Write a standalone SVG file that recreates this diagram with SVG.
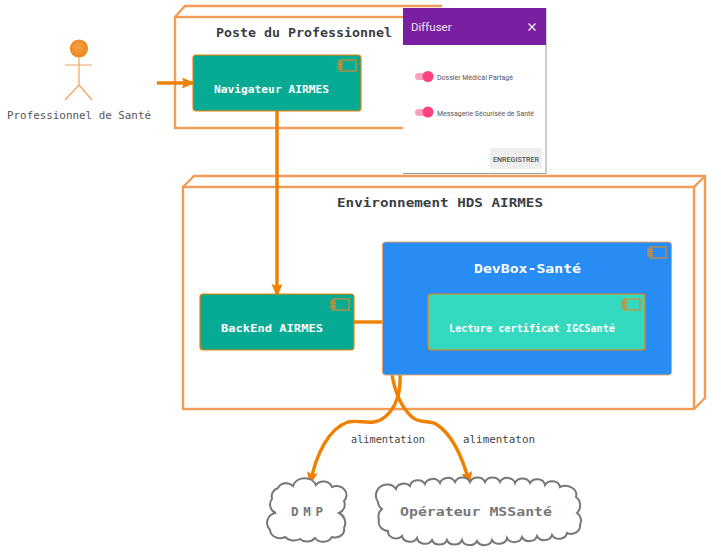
<svg xmlns="http://www.w3.org/2000/svg" width="721" height="552" viewBox="0 0 721 552">
<style>
text{font-family:"DejaVu Sans Mono","Liberation Mono",monospace;white-space:pre}
.box{fill:#fff;stroke:#F29C56;stroke-width:2.4}
.edge3d{fill:none;stroke:#F29C56;stroke-width:2.4}
.title{font-size:12.5px;font-weight:700;fill:#3a3f44}
.comp{stroke:#F08000;stroke-width:1.2}
.nodelabel{font-size:11.3px;fill:#fff;font-weight:600}
.icon rect{fill:none;stroke:#D98A2B;stroke-width:1.2}
.con{fill:none;stroke:#F08000;stroke-width:3.4}
.label{font-size:10.3px;fill:#444}
.cloud{fill:#fff;stroke:#777;stroke-width:2}
.cloudtext{font-size:12.5px;font-weight:700;fill:#777}
.pop{font-family:Roboto,"Liberation Sans",sans-serif;font-size:8px;fill:#555}
.track{fill:#FF9FC0}
.knob{fill:#FF4081}
</style>
<defs>
<marker id="arrow" markerUnits="userSpaceOnUse" markerWidth="16" markerHeight="16" refX="13" refY="6.500" orient="auto">
<path d="M0,1L13,6.500L0,12L2,6.500Z" fill="#F08000"/>
</marker>
<g id="ic" class="icon"><rect x="2" y="0" width="16" height="11"/><rect x="0" y="2" width="4" height="2.5"/><rect x="0" y="6.5" width="4" height="2.5"/></g>
<radialGradient id="head" cx="45%" cy="40%" r="65%"><stop offset="0" stop-color="#F5A04A"/><stop offset="1" stop-color="#EE8215"/></radialGradient>
</defs>

<g id="poste">
<rect class="box" x="175" y="17" width="266" height="111"/>
<path class="edge3d" d="M175,17L185,6H442"/>
<text class="title" x="216" y="37" textLength="176" lengthAdjust="spacingAndGlyphs">Poste du Professionnel</text>
</g>

<g id="env">
<rect class="box" x="183" y="187" width="511" height="222"/>
<path class="edge3d" d="M183,187L194,176H705V398L694,409M694,187L705,176"/>
<text class="title" x="337" y="207" textLength="206" lengthAdjust="spacingAndGlyphs">Environnement HDS AIRMES</text>
</g>

<g id="connectors">
<path class="con" d="M157,83H195" marker-end="url(#arrow)"/>
<path class="con" d="M277,111V297" marker-end="url(#arrow)"/>
<path class="con" d="M354,322H382"/>
<path class="con" d="M400,375C401,392 396,408 385,417C372,427 362,419 348,422C330,428 316,452 310,485" marker-end="url(#arrow)"/>
<path class="con" d="M392,375C395,392 402,408 412,417C420,424 428,420 436,424C452,434 463,458 470,485" marker-end="url(#arrow)"/>
</g>

<g id="actor" fill="none" stroke="#F2A25C" stroke-width="1.2">
<circle cx="79" cy="48.500" r="8.500" fill="url(#head)" stroke="#F08A24"/>
<path d="M79,57V85M65,65H92M65,100L79,85L92,100"/>
<text x="7" y="119" font-size="10.900" fill="#555" stroke="none" textLength="144" lengthAdjust="spacingAndGlyphs">Professionnel de Santé</text>
</g>

<g id="navigateur">
<rect class="comp" x="193" y="55" width="168" height="56" rx="3" fill="#07AA93"/>
<use href="#ic" x="338" y="60"/>
<text class="nodelabel" x="214" y="93" textLength="115" lengthAdjust="spacingAndGlyphs">Navigateur AIRMES</text>
</g>

<g id="backend">
<rect class="comp" x="200" y="294" width="154" height="56" rx="3" fill="#07AA93"/>
<use href="#ic" x="331" y="299"/>
<text class="nodelabel" x="221" y="332" textLength="102" lengthAdjust="spacingAndGlyphs">BackEnd AIRMES</text>
</g>

<g id="devbox">
<rect x="382.500" y="242" width="289" height="133" rx="3" fill="#288CF5" stroke="#E9A36A" stroke-width="1"/>
<use href="#ic" x="648" y="247"/>
<text x="474" y="273" font-size="12.500" font-weight="700" fill="#fff" textLength="107" lengthAdjust="spacingAndGlyphs">DevBox-Santé</text>
</g>

<g id="lecture">
<rect class="comp" x="428" y="294" width="217" height="56" rx="3" fill="#35D9C0"/>
<use href="#ic" x="622" y="299"/>
<text class="nodelabel" x="449" y="332" textLength="166" lengthAdjust="spacingAndGlyphs">Lecture certificat IGCSanté</text>
</g>

<g id="dmp">
<path class="cloud" d="M278,488A9,8 0 0 1 293,486A12,10 0 0 1 316,485A9,8 0 0 1 332,487A10,9 0 0 1 344,501A9,9 0 0 1 339,513A11,11 0 0 1 344,528A9,8 0 0 1 332,537A10,9 0 0 1 315,538A10,9 0 0 1 300,539A11,9 0 0 1 285,537A10,9 0 0 1 270,530A10,10 0 0 1 276,513A9,9 0 0 1 272,499A9,9 0 0 1 278,488Z"/>
<text class="cloudtext" x="291" y="516" textLength="32" lengthAdjust="spacing">D M P</text>
</g>

<g id="mss">
<path class="cloud" d="M396,489A8,7 0 0 1 410,486A8,7 0 0 1 425,484A8,7 0 0 1 440,483A8,7 0 0 1 455,482A8,7 0 0 1 470,482A8,7 0 0 1 485,482A8,7 0 0 1 500,482A8,7 0 0 1 515,483A8,7 0 0 1 530,483A8,7 0 0 1 545,485A8,7 0 0 1 560,487A11,9 0 0 1 576,497A9,10 0 0 1 577,513A8,9 0 0 1 580,525A9,8 0 0 1 567,533A8,7 0 0 1 552,535A8,7 0 0 1 537,536A8,7 0 0 1 522,537A8,7 0 0 1 507,538A8,7 0 0 1 492,540A8,7 0 0 1 477,541A8,7 0 0 1 462,540A8,7 0 0 1 447,540A8,7 0 0 1 432,540A8,7 0 0 1 417,538A8,7 0 0 1 402,536A8,7 0 0 1 388,531A10,9 0 0 1 379,520A9,10 0 0 1 382,509A9,9 0 0 1 378,502A11,11 0 0 1 396,489Z"/>
<text class="cloudtext" x="400" y="516" textLength="152" lengthAdjust="spacingAndGlyphs">Opérateur MSSanté</text>
</g>

<g id="label-dmp"><text class="label" x="351" y="443" textLength="74" lengthAdjust="spacingAndGlyphs">alimentation</text></g>
<g id="label-mss"><text class="label" x="463" y="443" textLength="72" lengthAdjust="spacingAndGlyphs">alimentaton</text></g>

<g id="popup">
<rect x="403" y="8" width="143" height="166" fill="#fff"/>
<path d="M403,173.500H546V8" fill="none" stroke="#999" stroke-width="1"/>
<rect x="403" y="8" width="143" height="37" fill="#7B1FA2"/>
<text x="411" y="31" font-size="11.500" fill="#f1e6f5" style="font-family:Roboto,'Liberation Sans',sans-serif">Diffuser</text>
<path d="M528.500,23.500L535.500,30.500M535.500,23.500L528.500,30.500" stroke="#fff" stroke-width="1.100"/>
<rect class="track" x="415" y="73" width="15" height="7" rx="3.500"/>
<circle class="knob" cx="428" cy="76.500" r="5.500"/>
<text class="pop" x="437" y="80" textLength="76" lengthAdjust="spacingAndGlyphs">Dossier Médical Partagé</text>
<rect class="track" x="415" y="109" width="15" height="7" rx="3.500"/>
<circle class="knob" cx="428" cy="112" r="5.500"/>
<text class="pop" x="437" y="116" textLength="97" lengthAdjust="spacingAndGlyphs">Messagerie Sécurisée de Santé</text>
<rect x="490" y="148" width="52" height="21" rx="1.500" fill="#eeeeee"/>
<text class="pop" x="493" y="161.500" font-weight="500" fill="#444" textLength="46" lengthAdjust="spacingAndGlyphs">ENREGISTRER</text>
</g>
</svg>
